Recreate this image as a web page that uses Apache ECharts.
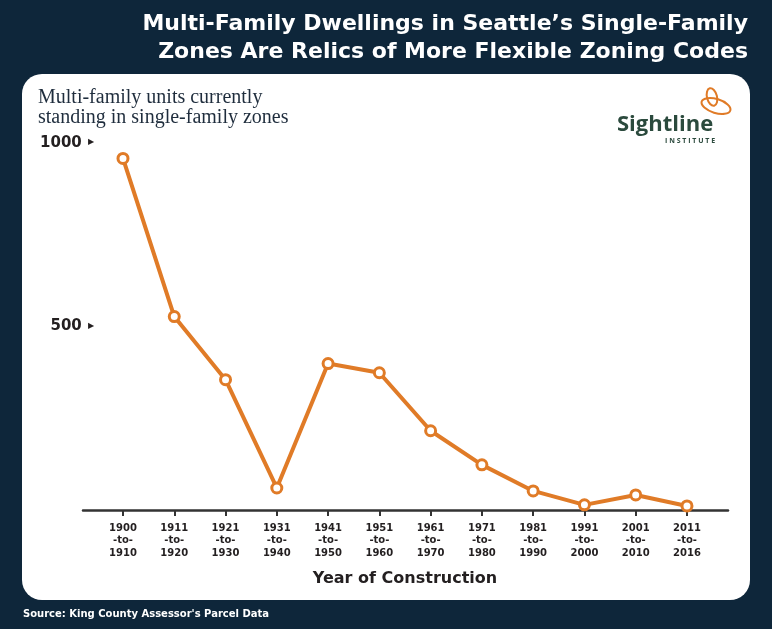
<!DOCTYPE html>
<html>
<head>
<meta charset="utf-8">
<script src="https://cdn.jsdelivr.net/npm/echarts@6/dist/echarts.min.js"></script>
<style>
  html, body { margin: 0; padding: 0; background: #0e263a; }
  #chart { width: 772px; height: 629px; }
</style>
</head>
<body>
<div id="chart"></div>
<script>
  // periods of construction
  const periods = [
    '1900\n-to-\n1910', '1911\n-to-\n1920', '1921\n-to-\n1930', '1931\n-to-\n1940',
    '1941\n-to-\n1950', '1951\n-to-\n1960', '1961\n-to-\n1970', '1971\n-to-\n1980',
    '1981\n-to-\n1990', '1991\n-to-\n2000', '2001\n-to-\n2010', '2011\n-to-\n2016'
  ]
  // multi-family units still standing
  const units = [958, 527, 355, 60, 399, 374, 216, 123, 52, 14, 41, 11]
  const yTicks = [500, 1000]

  const navy = '#0e263a'
  const orange = '#e07b27'
  const ink = '#231f20'

  let chart = echarts.init(document.getElementById('chart'))

  let options = {
    backgroundColor: navy,
    animation: false,
    title: [{
      text: 'Multi-family units currently\nstanding in single-family zones',
      left: 38,
      top: 88,
      padding: 0,
      textStyle: {
        color: '#1f2d3d',
        fontFamily: 'Liberation Serif',
        fontWeight: 'normal',
        fontSize: 20,
        lineHeight: 20
      }
    }, {
      text: 'Year of Construction',
      left: 405,
      top: 571,
      padding: 0,
      textAlign: 'center',
      textStyle: { color: ink, fontFamily: 'DejaVu Sans', fontWeight: 'bold', fontSize: 16 }
    }, {
      text: "Source: King County Assessor's Parcel Data",
      left: 23,
      top: 609,
      padding: 0,
      textStyle: { color: '#fff', fontFamily: 'DejaVu Sans', fontWeight: 'bold', fontSize: 10 }
    }],
    graphic: [{
      type: 'rect',
      z: -1,
      shape: { x: 22, y: 74, width: 728, height: 526, r: 20 },
      style: { fill: '#fff' }
    }, {
      type: 'text',
      style: {
        x: 748, y: 10, align: 'right',
        text: 'Multi-Family Dwellings in Seattle’s Single-Family\nZones Are Relics of More Flexible Zoning Codes',
        fill: '#fff', font: 'bold 22px "DejaVu Sans"', lineHeight: 28
      }
    }, {
      type: 'text',
      style: { x: 617, y: 114, text: 'Sightline', fill: '#2b4a3d', font: 'bold 22px "Open Sans"' }
    }, {
      type: 'text',
      style: { x: 665, y: 137, text: 'I N S T I T U T E', fill: '#2b4a3d', font: 'bold 7px "Open Sans"' }
    }, {
      type: 'ellipse',
      x: 716, y: 106, rotation: -0.3,
      shape: { cx: 0, cy: 0, rx: 15, ry: 7 },
      style: { fill: 'none', stroke: orange, lineWidth: 2 }
    }, {
      type: 'ellipse',
      x: 712, y: 97, rotation: 0.25,
      shape: { cx: 0, cy: 0, rx: 5, ry: 9 },
      style: { fill: 'none', stroke: orange, lineWidth: 2 }
    }],
    grid: {
      left: 83,
      right: 44,
      top: 143,
      bottom: 119
    },
    xAxis: {
      type: 'value',
      min: -0.78,
      max: 11.8,
      splitLine: { show: false },
      axisLine: { show: true, lineStyle: { color: '#333', width: 2.5 } },
      axisTick: {
        show: true,
        customValues: periods.map((p, i) => i),
        length: 6,
        lineStyle: { color: '#333', width: 2 }
      },
      axisLabel: {
        customValues: periods.map((p, i) => i),
        formatter: v => periods[Math.round(v)],
        color: ink,
        fontFamily: 'DejaVu Sans',
        fontWeight: 'bold',
        fontSize: 10,
        lineHeight: 12.5,
        margin: 12
      }
    },
    yAxis: {
      type: 'value',
      min: 0,
      max: 1000,
      interval: 500,
      splitLine: { show: false },
      axisLine: { show: false },
      axisTick: { show: false },
      axisLabel: {
        showMinLabel: false,
        margin: -11,
        formatter: v => yTicks.includes(v) ? '{n|' + v + '}{t| ▶}' : '',
        rich: {
          n: { color: ink, fontFamily: 'DejaVu Sans', fontWeight: 'bold', fontSize: 15 },
          t: { color: ink, fontSize: 8, padding: [0, 0, 2, 4] }
        }
      }
    },
    series: [{
      type: 'line',
      data: units.map((u, i) => [i, u]),
      symbol: 'circle',
      symbolSize: 10,
      lineStyle: { color: orange, width: 4 },
      itemStyle: { color: '#fff', borderColor: orange, borderWidth: 3 }
    }]
  }

  chart.setOption(options, true)
</script>
</body>
</html>
